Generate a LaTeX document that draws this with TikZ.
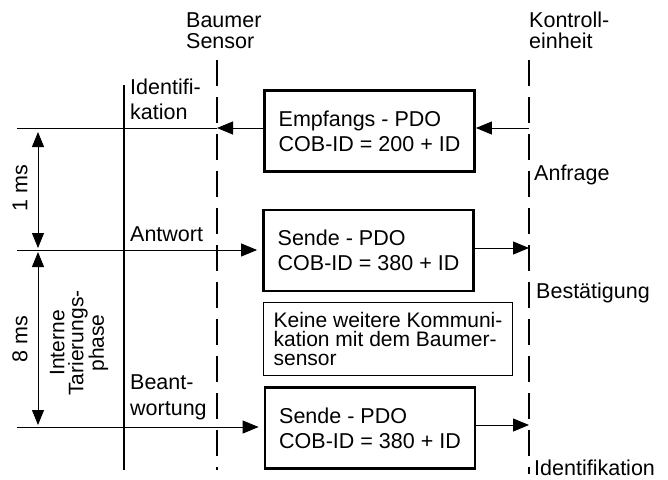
\documentclass[tikz,border=0pt]{standalone}
\usepackage{fontspec}
\setmainfont{Liberation Sans}
\usetikzlibrary{arrows.meta}
\begin{document}
\begin{tikzpicture}[x=1pt,y=-1pt,
  lbl/.style={inner sep=0pt, align=left, anchor=base west},
  fa/.style={font=\fontsize{21.5}{21}\selectfont},
  fb/.style={font=\fontsize{21.5}{24.5}\selectfont},
  pdo/.style={draw, line width=2.8pt, minimum width=210pt, minimum height=81pt, inner sep=0pt, align=left, font=\fontsize{21.5}{25}\selectfont},
  note/.style={draw, line width=1.2pt, minimum width=249pt, minimum height=73pt, inner sep=0pt, align=left, font=\fontsize{21}{19}\selectfont},
  tip/.style={-{Triangle[length=16pt,width=13pt]}},
  dtip/.style={{Triangle[length=15pt,width=12pt]}-{Triangle[length=15pt,width=12pt]}},
  lifeline/.style={line width=1.2pt, dash pattern=on 26pt off 11pt},
  thin/.style={line width=1pt}]

\useasboundingbox (0,0) rectangle (668,479);

% header labels (base = last line)
\node[lbl,fa] (hs) at (186,48) {Baumer\\Sensor};
\node[lbl,fa] (hk) at (529,48) {Kontroll-\\einheit};

% lifelines
\coordinate (st) at (217,60);  \coordinate (sb) at (217,470);
\coordinate (kt) at (529,60);  \coordinate (kb) at (529,474);
\coordinate (mt) at (124,85);  \coordinate (mb) at (124,470);
\draw[lifeline] (st) -- (sb);
\draw[lifeline] (kt) -- (kb);
\draw[line width=2.5pt] (mt) -- (mb);

% boxes
\node[pdo] (b1) at (369.5,131) {Empfangs - PDO\\COB-ID = 200 + ID};
\node[pdo] (b2) at (368.5,250.5) {Sende - PDO\\COB-ID = 380 + ID};
\node[note] (b3) at (388,339) {Keine weitere Kommuni-\\kation mit dem Baumer-\\sensor};
\node[pdo] (b4) at (370,428) {Sende - PDO\\COB-ID = 380 + ID};

% horizontal lines
\coordinate (l1) at (17,128);
\coordinate (s1) at (217,128);
\coordinate (k1) at (529,128);
\draw[thin,tip] (b1.west |- l1) -- (s1);
\draw[thin] (s1) -- (l1);
\draw[thin,tip] (k1) -- (b1.east |- k1);

\coordinate (l2) at (17,250);
\draw[thin,tip,shorten >=5pt] (l2) -- (b2.west |- l2);
\draw[thin,tip] (b2.east |- 0,248) -- (kt |- 0,248);

\coordinate (l3) at (17,427);
\draw[thin,tip,shorten >=5pt] (l3) -- (b4.west |- l3);
\draw[thin,tip] (b4.east |- 0,425) -- (kt |- 0,425);

% dimension arrows
\coordinate (d1) at (38,128);
\coordinate (d2) at (38,250);
\coordinate (d3) at (38,427);
\draw[thin,dtip,shorten <=4pt,shorten >=2pt] (d1) -- (d2);
\draw[thin,dtip,shorten <=2pt,shorten >=2pt] (d2) -- (d3);
\node[fa,rotate=90,inner sep=0pt] (t1) at (20,188) {1 ms};
\node[fa,rotate=90,inner sep=0pt] (t8) at (20,339) {8 ms};
\node[rotate=90,inner sep=0pt,align=center,font=\fontsize{21}{19}\selectfont] (ti) at (79,343) {Interne\\Tarierungs-\\phase};

% side labels (base = last line)
\node[lbl,fb] (a1) at (130,119) {Identifi-\\kation};
\node[lbl,fb] (a2) at (130,241) {Antwort};
\node[lbl,font=\fontsize{21.5}{26}\selectfont] (a3) at (130,415) {Beant-\\wortung};
\node[lbl,fb] (r1) at (534,180) {Anfrage};
\node[lbl,fb] (r2) at (536,298) {Bestätigung};
\node[lbl,fb] (r3) at (534,475) {Identifikation};
\end{tikzpicture}
\end{document}
